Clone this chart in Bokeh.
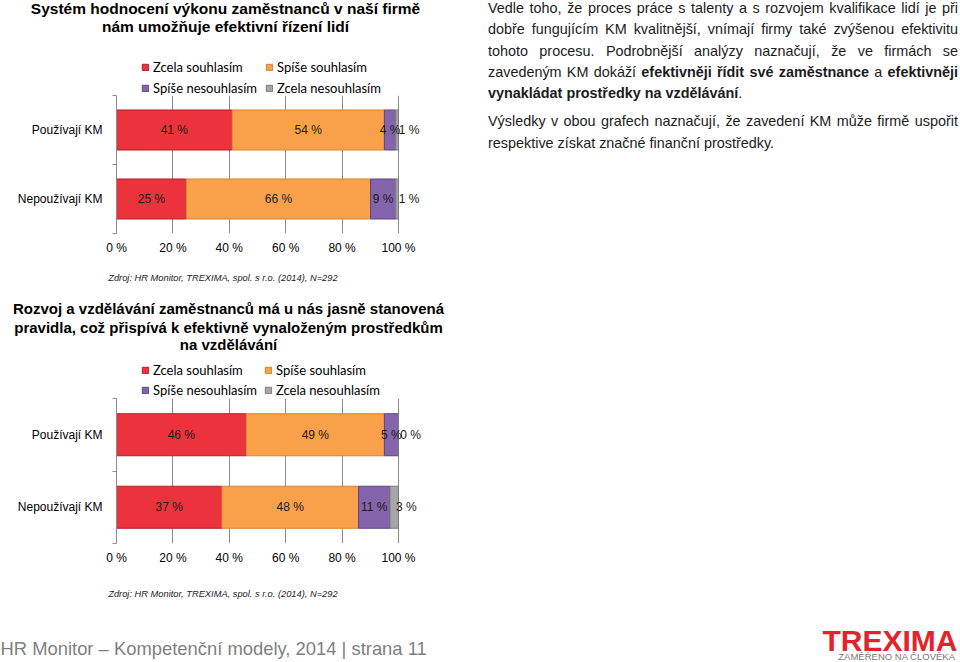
from bokeh.plotting import figure
from bokeh.models import (ColumnDataSource, Range1d, FixedTicker, PrintfTickFormatter,
                          LabelSet, Label, Legend, LegendItem, Div)
from bokeh.layouts import row, column
from bokeh.core.properties import value
from bokeh.embed import file_html
from bokeh.resources import INLINE

# ---------------- data ----------------
groups = ["Používají KM", "Nepoužívají KM"]
series = ["Zcela souhlasím", "Spíše souhlasím", "Spíše nesouhlasím", "Zcela nesouhlasím"]
x_ticks = [0, 20, 40, 60, 80, 100]

c1_title = ["Systém hodnocení výkonu zaměstnanců v naší firmě",
            "nám umožňuje efektivní řízení lidí"]
c1_zcela_souhlasim = [41, 25]
c1_spise_souhlasim = [54, 66]
c1_spise_nesouhlasim = [4, 9]
c1_zcela_nesouhlasim = [1, 1]

c2_title = ["Rozvoj a vzdělávání zaměstnanců má u nás jasně stanovená",
            "pravidla, což přispívá k efektivně vynaloženým prostředkům",
            "na vzdělávání"]
c2_zcela_souhlasim = [46, 37]
c2_spise_souhlasim = [49, 48]
c2_spise_nesouhlasim = [5, 11]
c2_zcela_nesouhlasim = [0, 3]

source_note = "Zdroj: HR  Monitor, TREXIMA, spol. s r.o.  (2014), N=292"
footer_text = "HR Monitor – Kompetenční modely, 2014 | strana 11"

# ---------------- style ----------------
colors = ["#EC323D", "#F9A04B", "#8465AC", "#A6A6A6"]
edge_colors = ["#B02129", "#D9822F", "#5C4485", "#7A7A7A"]
ARIAL = "Liberation Sans"
GRID = "#8C8C8C"
W = 480


def blank(width, height):
    f = figure(width=width, height=height, x_range=Range1d(0, width), y_range=Range1d(0, height),
               toolbar_location=None, output_backend="svg", min_border=0,
               x_axis_location=None, y_axis_location=None)
    f.outline_line_color = None
    f.grid.visible = False
    f.background_fill_color = "white"
    f.border_fill_color = "white"
    return f


def make_header(title_lines, title_ys, title_xc, title_size, H, legend_rows, sources):
    h = blank(W, H)
    for t, ty in zip(title_lines, title_ys):
        h.add_layout(Label(x=title_xc, y=H - ty, x_units="screen", y_units="screen",
                           text=t, text_align="center", text_baseline="middle",
                           text_font=ARIAL, text_font_size=title_size, text_font_style="bold",
                           text_color="#000000"))
    # hidden copies of the series (same data) that only feed the legend swatches
    rs = []
    for src, c, ec in zip(sources, colors, edge_colors):
        r = h.hbar(y="y", left="left", right="right", height=0.58, source=src,
                   fill_color=c, line_color=ec)
        r.visible = False
        rs.append(r)
    lh = 18
    sp = legend_rows[1] - legend_rows[0] - lh
    leg_top = legend_rows[0] - lh / 2
    leg_bottom = leg_top + 2 * lh + sp
    legend = Legend(items=[LegendItem(label=s, renderers=[r]) for s, r in zip(series, rs)],
                    location=(141, H - leg_bottom),
                    orientation="horizontal", ncols=2,
                    glyph_width=8, glyph_height=8, label_standoff=4,
                    label_width=109, label_height=lh, spacing=sp,
                    padding=0, margin=0, border_line_color=None,
                    background_fill_alpha=0,
                    label_text_font="Lato", label_text_font_size="13px",
                    label_text_color="#000000")
    h.add_layout(legend)
    return h


def make_bars(values, frame_h):
    left, right_100, right_frame = 116, 398, 430
    n = len(groups)
    x_end = 100.0 * (right_frame - left) / (right_100 - left)
    p = figure(width=W, height=frame_h + 27, x_range=Range1d(0, x_end), y_range=Range1d(0, n),
               toolbar_location=None, output_backend="svg",
               min_border_left=left, min_border_right=W - right_frame,
               min_border_top=0, min_border_bottom=27)
    p.outline_line_color = None
    p.background_fill_color = "white"
    p.border_fill_color = "white"

    centers = [n - i - 0.5 for i in range(n)]
    totals = [sum(v[i] for v in values) for i in range(n)]
    cum = [0.0] * n
    lab = dict(x=[], y=[], text=[], dx=[])
    sources = []
    for k, vals in enumerate(values):
        share = [100.0 * v / t for v, t in zip(vals, totals)]
        lft = cum[:]
        rgt = [a + b for a, b in zip(cum, share)]
        src = ColumnDataSource(dict(y=centers, left=lft, right=rgt))
        sources.append(src)
        p.hbar(y="y", left="left", right="right", height=0.58, source=src,
               fill_color=colors[k], line_color=edge_colors[k], line_width=1)
        for i in range(n):
            lab["x"].append((lft[i] + rgt[i]) / 2)
            lab["y"].append(centers[i])
            lab["text"].append(f"{vals[i]} %")
            lab["dx"].append(12 if k == len(values) - 1 else 0)
        cum = rgt

    p.add_layout(LabelSet(x="x", y="y", text="text", x_offset="dx",
                          source=ColumnDataSource(lab), text_align="center",
                          text_baseline="middle", text_font=value(ARIAL),
                          text_font_size="12px", text_color="#1a1a1a"))

    xa = p.xaxis[0]
    xa.ticker = FixedTicker(ticks=x_ticks)
    xa.formatter = PrintfTickFormatter(format="%d %%")
    xa.axis_line_color = None
    xa.major_tick_line_color = None
    xa.minor_tick_line_color = None
    xa.major_tick_out = 0
    xa.major_label_standoff = 7
    xa.major_label_text_font = ARIAL
    xa.major_label_text_font_size = "12px"
    xa.major_label_text_color = "#000000"
    p.xgrid.ticker = FixedTicker(ticks=x_ticks)
    p.xgrid.grid_line_color = GRID
    p.ygrid.grid_line_color = None

    ya = p.yaxis[0]
    ya.ticker = FixedTicker(ticks=centers, minor_ticks=list(range(n + 1)))
    ya.major_label_overrides = {c: g for c, g in zip(centers, groups)}
    ya.major_tick_line_color = None
    ya.major_tick_out = 0
    ya.major_tick_in = 0
    ya.minor_tick_out = 4
    ya.minor_tick_in = 0
    ya.minor_tick_line_color = GRID
    ya.axis_line_color = GRID
    ya.major_label_standoff = 10
    ya.major_label_text_font = ARIAL
    ya.major_label_text_font_size = "12px"
    ya.major_label_text_color = "#000000"
    return p, sources


def make_note(H, y_center):
    f = blank(W, H)
    f.add_layout(Label(x=225, y=H - y_center, x_units="screen", y_units="screen",
                       text=source_note, text_align="center", text_baseline="middle",
                       text_font=ARIAL, text_font_size="9.3px", text_font_style="italic",
                       text_color="#222222"))
    return f


bars1, src1 = make_bars([c1_zcela_souhlasim, c1_spise_souhlasim, c1_spise_nesouhlasim,
                         c1_zcela_nesouhlasim], 138)
hdr1 = make_header(c1_title, [8, 26], 225, "15.5px", 95, [67, 88], src1)
note1 = make_note(30, 17)

bars2, src2 = make_bars([c2_zcela_souhlasim, c2_spise_souhlasim, c2_spise_nesouhlasim,
                         c2_zcela_nesouhlasim], 145)
hdr2 = make_header(c2_title, [18, 37, 54], 228, "15px", 108, [80, 100], src2)
note2 = make_note(35, 23)

# ---------------- right text ----------------
para1_justified = [
    "Vedle toho, že proces práce s talenty a s rozvojem kvalifikace lidí je při",
    "dobře fungujícím KM kvalitnější, vnímají firmy také zvýšenou efektivitu",
    "tohoto procesu. Podrobnější analýzy naznačují, že ve firmách se",
    "zavedeným KM dokáží *efektivněji *řídit *své *zaměstnance a *efektivněji",
]
para1_last = "<b>vynakládat prostředky na vzdělávání</b>."
para2_justified = ["Výsledky v obou grafech naznačují, že zavedení KM může firmě uspořit"]
para2_last = "respektive získat značné finanční prostředky."


def just_line(line):
    words = []
    for w in line.split(" "):
        if w.startswith("*"):
            words.append(f"<b>{w[1:]}</b>")
        else:
            words.append(f"<span>{w}</span>")
    return ('<div style="display:flex;justify-content:space-between;white-space:nowrap;">'
            + "".join(words) + "</div>")


html = ('<div style="font-family:\'Liberation Sans\',Arial,sans-serif;font-size:14.4px;'
        'line-height:21.3px;color:#1c1c1c;width:470px;margin:-2px 0 0 8px;">'
        + "".join(just_line(l) for l in para1_justified)
        + f'<div style="margin-bottom:7px;white-space:nowrap;">{para1_last}</div>'
        + "".join(just_line(l) for l in para2_justified)
        + f'<div style="white-space:nowrap;">{para2_last}</div>'
        + '</div>')
text_div = Div(text=html, width=480, height=605, margin=0)

# ---------------- footer ----------------
foot = blank(960, 57)
foot.add_layout(Label(x=0, y=14, x_units="screen", y_units="screen", text=footer_text,
                      text_align="left", text_baseline="middle", text_font=ARIAL,
                      text_font_size="18.4px", text_color="#7F7F7F"))
foot.add_layout(Label(x=957, y=22, x_units="screen", y_units="screen", text="TREXIMA",
                      text_align="right", text_baseline="middle", text_font=ARIAL,
                      text_font_size="30px", text_font_style="bold", text_color="#E2232B"))
foot.add_layout(Label(x=955, y=6, x_units="screen", y_units="screen", text="ZAMĚŘENO NA ČLOVĚKA",
                      text_align="right", text_baseline="middle", text_font=ARIAL,
                      text_font_size="9.5px", text_color="#777777"))

# each figure wrapped on its own so that frames are not aligned across the column
left_col = column(row(hdr1), row(bars1), row(note1), row(hdr2), row(bars2), row(note2))
layout = column(row(left_col, text_div), foot)
open("out.html", "w").write(file_html(layout, INLINE))
